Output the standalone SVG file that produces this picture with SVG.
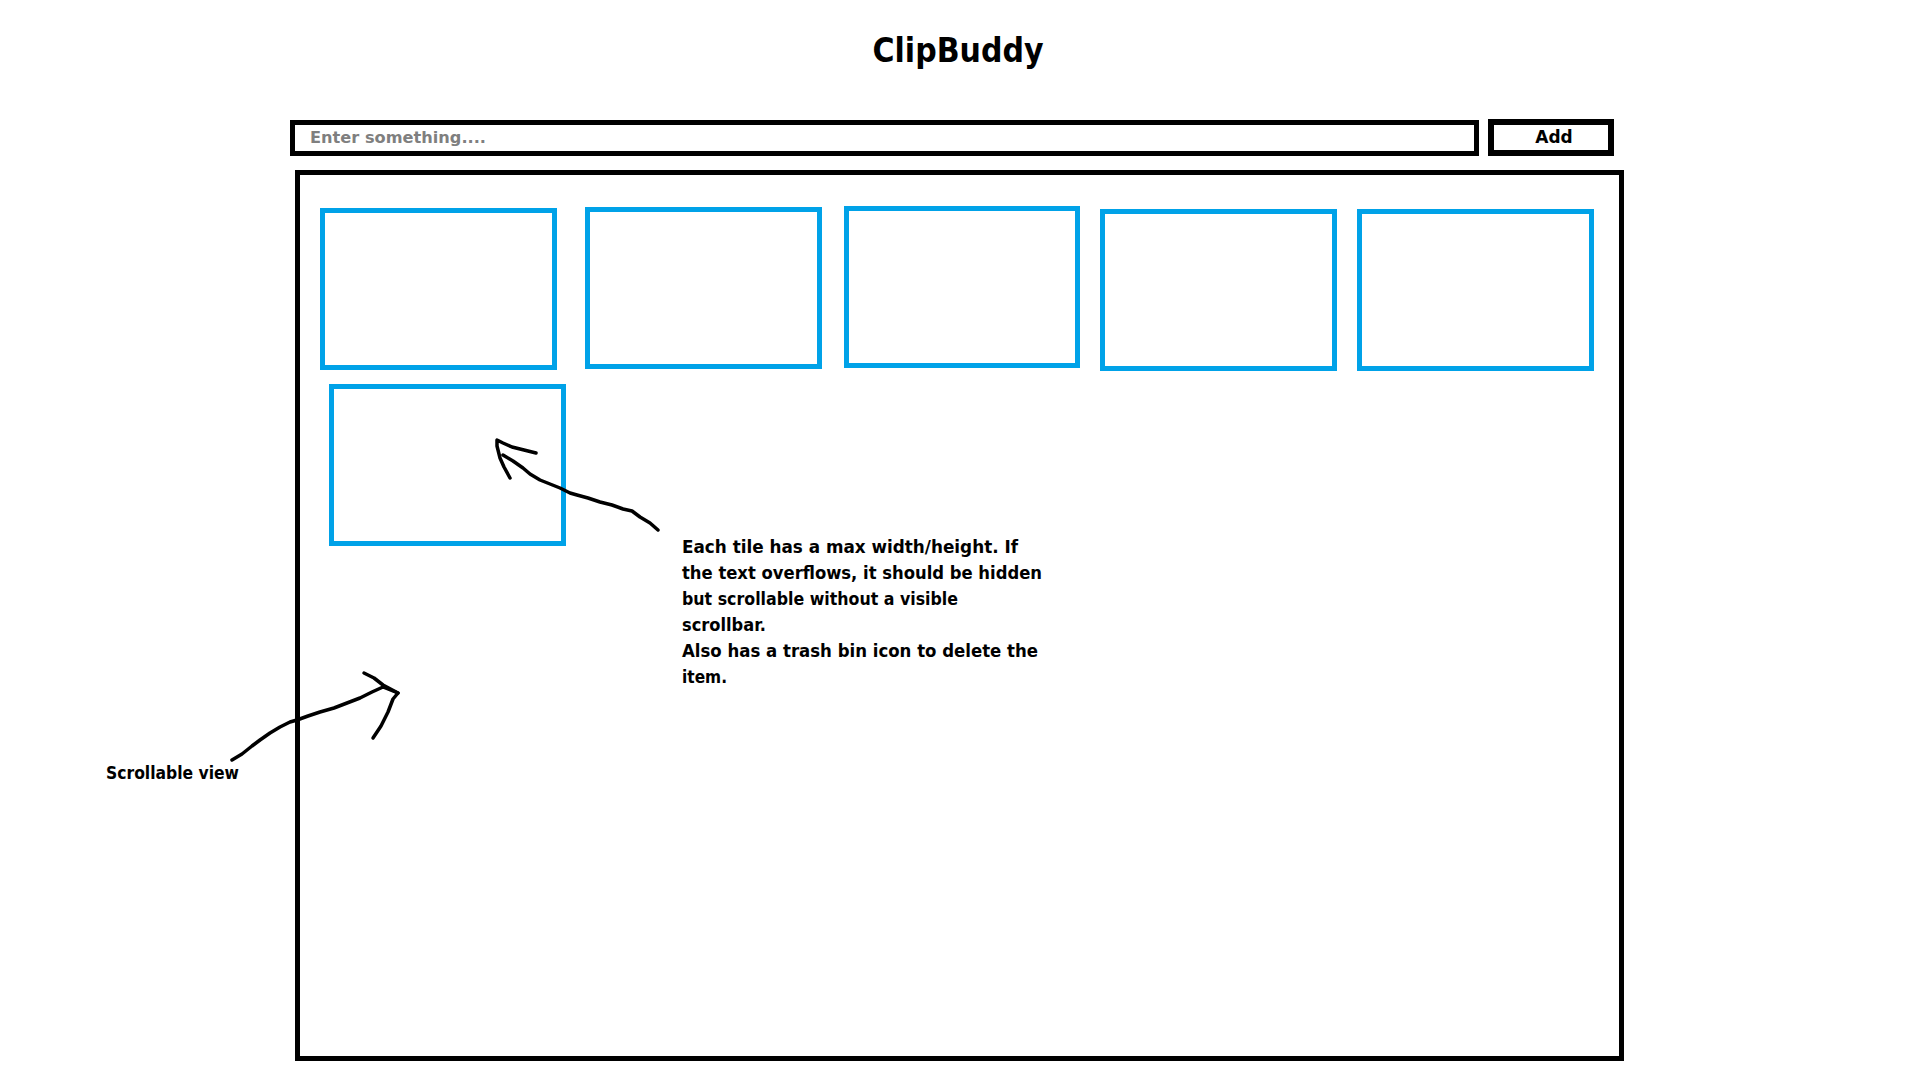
<svg xmlns="http://www.w3.org/2000/svg" width="1920" height="1080" viewBox="0 0 1920 1080">
  <style>
    .frame { fill: #ffffff; stroke: #000000; stroke-width: 5; }
    .btn { fill: #ffffff; stroke: #000000; stroke-width: 6; }
    .tile { fill: none; stroke: #00A2E8; stroke-width: 5; }
    .txt { font-family: "DejaVu Sans", "Liberation Sans", sans-serif; font-weight: bold; fill: #000000; }
    .ph { font-family: "DejaVu Sans", "Liberation Sans", sans-serif; font-weight: bold; fill: #7f7f7f; }
    .ink { fill: none; stroke: #000000; stroke-width: 3.5; stroke-linecap: round; stroke-linejoin: round; }
  </style>
  <rect width="1920" height="1080" fill="#ffffff"/>

  <g id="title">
    <text class="txt" x="958" y="62" font-size="34" text-anchor="middle" textLength="171" lengthAdjust="spacingAndGlyphs">ClipBuddy</text>
  </g>

  <g id="input">
    <rect class="frame" x="292.5" y="122.5" width="1184" height="31"/>
    <text class="ph" x="310" y="143" font-size="16" textLength="176" lengthAdjust="spacingAndGlyphs">Enter something....</text>
  </g>

  <g id="add-button">
    <rect class="btn" x="1491" y="122" width="120" height="31"/>
    <text class="txt" x="1554" y="143" font-size="17" text-anchor="middle">Add</text>
  </g>

  <g id="scroll-view">
    <rect class="frame" x="297.5" y="172.5" width="1324" height="886"/>
  </g>

  <g id="tile-1"><rect class="tile" x="322.5" y="210.5" width="232" height="157"/></g>
  <g id="tile-2"><rect class="tile" x="587.5" y="209.5" width="232" height="157"/></g>
  <g id="tile-3"><rect class="tile" x="846.5" y="208.5" width="231" height="157"/></g>
  <g id="tile-4"><rect class="tile" x="1102.5" y="211.5" width="232" height="157"/></g>
  <g id="tile-5"><rect class="tile" x="1359.5" y="211.5" width="232" height="157"/></g>
  <g id="tile-6"><rect class="tile" x="331.5" y="386.5" width="232" height="157"/></g>

  <g id="tile-note">
    <text class="txt" font-size="17">
      <tspan x="682" y="553" textLength="336" lengthAdjust="spacingAndGlyphs">Each tile has a max width/height. If</tspan>
      <tspan x="682" y="579" textLength="360" lengthAdjust="spacingAndGlyphs">the text overflows, it should be hidden</tspan>
      <tspan x="682" y="605" textLength="276" lengthAdjust="spacingAndGlyphs">but scrollable without a visible</tspan>
      <tspan x="682" y="631" textLength="84" lengthAdjust="spacingAndGlyphs">scrollbar.</tspan>
      <tspan x="682" y="657" textLength="356" lengthAdjust="spacingAndGlyphs">Also has a trash bin icon to delete the</tspan>
      <tspan x="682" y="683" textLength="45" lengthAdjust="spacingAndGlyphs">item.</tspan>
    </text>
  </g>

  <g id="scroll-note">
    <text class="txt" x="106" y="779" font-size="17" textLength="133" lengthAdjust="spacingAndGlyphs">Scrollable view</text>
  </g>

  <g id="connectors">
    <polyline class="ink" points="658,530 650,523 640,517 632,511 623,509 612,505 600,502 588,498 577,495 570,493 560,488 550,484 540,480 530,474 523,468 513,461 503,455"/>
    <polyline class="ink" points="536,453 524,450 512,447 503,443 497,440 497,446 500,458 504,467 510,478"/>
    <polyline class="ink" points="232,760 242,754 252,746 260,740 270,733 280,727 290,722 297,720 308,716 320,712 334,708 347,703 360,698 372,692 383,687 398,693"/>
    <polyline class="ink" points="364,673 374,678 383,685 398,693 393,699 388,712 381,726 373,738"/>
  </g>
</svg>
